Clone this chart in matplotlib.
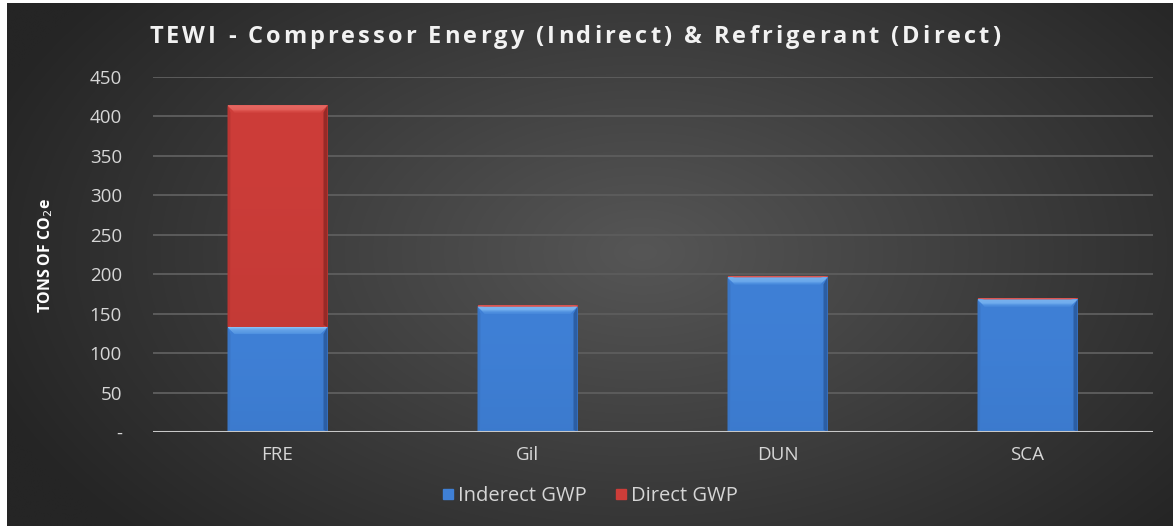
import numpy as np
import matplotlib
matplotlib.use("Agg")
import matplotlib.pyplot as plt
from matplotlib.patches import Polygon, Rectangle
from matplotlib.lines import Line2D

# ---- data -------------------------------------------------------------
categories = ["FRE", "Gil", "DUN", "SCA"]
indirect_gwp = [133, 159, 196, 168]
direct_gwp = [281, 1.5, 1.5, 1.5]
y_ticks = [0, 50, 100, 150, 200, 250, 300, 350, 400, 450]
y_tick_labels = ["-", "50", "100", "150", "200", "250", "300", "350", "400", "450"]
title_text = "TEWI - Compressor Energy (Indirect) & Refrigerant (Direct)"
series_names = ["Inderect GWP", "Direct GWP"]

W, H = 1175, 526
DPI = 100
fig = plt.figure(figsize=(W / DPI, H / DPI), dpi=DPI, facecolor="white")

# ---- radial gradient background ---------------------------------------
bg = fig.add_axes([7 / W, 0, 1 - 9 / W, 1 - 3 / H], zorder=-10)
yy, xx = np.mgrid[0:H, 0:W]
cx, cy = 640, 250
r = np.sqrt(((xx - cx) / 700.0) ** 2 + ((yy - cy) / 420.0) ** 2)
r = np.clip(r, 0, 1)
center = np.array([0x56, 0x56, 0x56]) / 255
edge = np.array([0x25, 0x25, 0x25]) / 255
img = center[None, None, :] * (1 - r[..., None]) + edge[None, None, :] * r[..., None]
bg.imshow(img, aspect="auto", extent=[0, 1, 0, 1], origin="upper")
bg.set_axis_off()

# ---- main axes --------------------------------------------------------
x0, x1 = 152.5, 1152.5
y_zero, y_top = 432, 77
ax = fig.add_axes([x0 / W, 1 - y_zero / H, (x1 - x0) / W, (y_zero - y_top) / H])
ax.set_facecolor("none")
ax.set_xlim(-0.5, len(categories) - 0.5)
ax.set_ylim(0, 450)

for s in ax.spines.values():
    s.set_visible(False)
ax.set_yticks(y_ticks)
ax.set_yticklabels(y_tick_labels)
ax.set_xticks(range(len(categories)))
ax.set_xticklabels(categories)
ax.tick_params(axis="both", length=0, colors="#d6d6d6", labelsize=13.5)
ax.tick_params(axis="y", pad=22)
ax.tick_params(axis="x", pad=10)
for lab in ax.get_xticklabels() + ax.get_yticklabels():
    lab.set_fontfamily("Open Sans")
for t in y_ticks[1:]:
    ax.axhline(t, color="#5c5c5c", lw=1.4, zorder=0)
ax.axhline(0, color="#c8c8c8", lw=2.2, zorder=5)

fig.text(46 / W, 1 - 255 / H, "TONS OF CO$_2$e", color="white", fontsize=11.5,
         fontweight="bold", fontfamily="Open Sans", rotation=90, ha="center", va="center")

x = np.arange(len(categories))
bw = 0.4
blue_bars = ax.bar(x, indirect_gwp, width=bw, color="#3f80d6", zorder=2, linewidth=0)
red_bars = ax.bar(x, direct_gwp, width=bw, bottom=indirect_gwp, color="#cd3d39",
                  zorder=2, linewidth=0)

fig.canvas.draw()
inv = ax.transData.inverted()
px_x = abs(inv.transform((1, 0))[0] - inv.transform((0, 0))[0])
px_y = abs(inv.transform((0, 1))[1] - inv.transform((0, 0))[1])


def bevel(patch, light, mid, dark, side, top_px=7):
    bx, by = patch.get_x(), patch.get_y()
    w, h = patch.get_width(), patch.get_height()
    dxp = min(top_px * px_x, w / 2)
    dyp = min(top_px * px_y, h)
    # top highlight, fading from light rim to face colour
    n = 6
    for i in range(n):
        f0, f1 = i / n, (i + 1) / n
        c = np.array(matplotlib.colors.to_rgb(light)) * (1 - f0) + \
            np.array(matplotlib.colors.to_rgb(mid)) * f0
        ax.add_patch(Polygon([(bx + dxp * f0, by + h - dyp * f0),
                              (bx + w - dxp * f0, by + h - dyp * f0),
                              (bx + w - dxp * f1, by + h - dyp * f1),
                              (bx + dxp * f1, by + h - dyp * f1)],
                             closed=True, color=c, lw=0, zorder=3))
    if h > 3 * dyp:
        # darker sides
        ax.add_patch(Polygon([(bx + w, by + h), (bx + w, by), (bx + w - 4 * px_x, by + 2 * px_y),
                              (bx + w - 4 * px_x, by + h - dyp)], closed=True, color=dark,
                             lw=0, zorder=3))
        ax.add_patch(Polygon([(bx, by + h), (bx, by), (bx + 3 * px_x, by + 2 * px_y),
                              (bx + 3 * px_x, by + h - dyp)], closed=True, color=side,
                             lw=0, zorder=3))
        # soft vertical shading
        n = 30
        for i in range(n):
            f = i / n
            ax.add_patch(Rectangle((bx + 3 * px_x, by + h * f), w - 7 * px_x, h / n,
                                   color=dark, alpha=0.16 * (1 - f) ** 1.5, lw=0, zorder=2.5))


for p in blue_bars:
    bevel(p, "#8cc4f8", "#4488dc", "#2c5ea3", "#3a76c6")
for p in red_bars:
    bevel(p, "#f07a74", "#d4433e", "#962a27", "#bb3633")

# ---- title with letter spacing ---------------------------------------
renderer = fig.canvas.get_renderer()
tprops = dict(fontsize=17, fontweight="bold", color="#f2f2f2", fontfamily="Open Sans")
widths = []
for ch in title_text:
    if ch == " ":
        tt = fig.text(0, 0, "a a", **tprops)
        tb = fig.text(0, 0, "aa", **tprops)
        wv = tt.get_window_extent(renderer).width - tb.get_window_extent(renderer).width
        tt.remove(); tb.remove()
    else:
        tt = fig.text(0, 0, ch, **tprops)
        wv = tt.get_window_extent(renderer).width
        tt.remove()
    widths.append(wv)
title_left, title_right = 149, 1000
track = (title_right - title_left - sum(widths)) / (len(title_text) - 1)
cur = title_left
for ch, wv in zip(title_text, widths):
    if ch != " ":
        fig.text(cur / W, 1 - 37 / H, ch, va="center", ha="left", **tprops)
    cur += wv + track

# ---- legend -----------------------------------------------------------
handles = [Line2D([], [], marker="s", ls="none", markersize=7, color="#3f80d6"),
           Line2D([], [], marker="s", ls="none", markersize=7, color="#cd3d39")]
leg = fig.legend(handles, series_names, loc="center", bbox_to_anchor=(590 / W, 1 - 496 / H),
                 ncol=2, frameon=False, handlelength=0.6, handletextpad=0.2,
                 columnspacing=1.4, prop={"family": "Open Sans", "size": 14.5})
for t in leg.get_texts():
    t.set_color("#d6d6d6")

fig.savefig("out.png", dpi=DPI, facecolor="white")
